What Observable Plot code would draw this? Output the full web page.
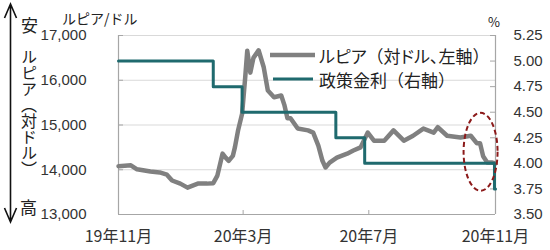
<!DOCTYPE html>
<html><head><meta charset="utf-8">
<script src="https://cdn.jsdelivr.net/npm/d3@7"></script>
<script src="https://cdn.jsdelivr.net/npm/@observablehq/plot@0.6"></script>
<style>body{margin:0;background:#fff}</style>
</head><body><div id="chart"></div>
<script>
// ---- data ----
const rupiahDates = ["2019-11-20","2019-12-02","2019-12-08","2019-12-21","2019-12-30","2020-01-06","2020-01-11","2020-01-19","2020-01-26","2020-02-05","2020-02-14","2020-02-20","2020-02-24","2020-02-29","2020-03-03","2020-03-06","2020-03-10","2020-03-12","2020-03-15","2020-03-19","2020-03-22","2020-03-24","2020-03-27","2020-03-30","2020-04-04","2020-04-09","2020-04-13","2020-04-19","2020-04-26","2020-04-29","2020-05-02","2020-05-05","2020-05-12","2020-05-22","2020-05-27","2020-06-01","2020-06-05","2020-06-08","2020-06-12","2020-06-19","2020-06-29","2020-07-05","2020-07-12","2020-07-19","2020-07-25","2020-08-04","2020-08-13","2020-08-23","2020-09-01","2020-09-11","2020-09-21","2020-09-25","2020-10-04","2020-10-17","2020-10-27","2020-11-02","2020-11-05","2020-11-08","2020-11-12","2020-11-17","2020-11-20"];
const rupiahValues = [14080,14100,14010,13960,13940,13890,13760,13690,13600,13690,13690,13700,13870,14360,14270,14200,14310,14500,14870,15250,16060,16660,16170,16500,16670,16290,15770,15620,15660,15450,15150,15150,14920,14880,14830,14540,14200,14050,14160,14270,14360,14430,14500,14830,14650,14650,14880,14650,14760,14920,14830,14950,14760,14720,14760,14590,14590,14300,14160,14160,14140];
const rateDates = ["2019-11-20","2020-02-20","2020-03-19","2020-06-18","2020-07-16","2020-11-19","2020-11-20"];
const rateValues = [5.00,4.75,4.50,4.25,4.00,3.75,3.75];
const leftTicks = [13000,14000,15000,16000,17000];
const rightTicks = [3.50,3.75,4.00,4.25,4.50,4.75,5.00,5.25];
const xDomain = ["2019-11-20","2020-11-20"];
const xTickDates = ["2019-11-20","2020-03-20","2020-07-20","2020-11-20"];
const xTickLabels = ["19年11月","20年3月","20年7月","20年11月"];
const seriesNames = ["ルピア(対ドル、左軸)","政策金利(右軸)"];
const leftTitle = "ルピア/ドル";
const rightTitle = "%";
const sideWords = ["安","ルピア（対ドル）","高"];
const highlightDate = "2020-11-06", highlightValue = 14390, highlightDays = 16.5, highlightSpan = 870;

// ---- build ----
const parse = d3.utcParse("%Y-%m-%d");
const leftMin = 13000, leftMax = 17000, rMin = 3.5, rMax = 5.25;
const rateToY = r => leftMin + (r - rMin) * (leftMax - leftMin) / (rMax - rMin);
const yToRate = v => rMin + (v - leftMin) * (rMax - rMin) / (leftMax - leftMin);
const rupiah = rupiahDates.map((d, i) => ({date: parse(d), value: rupiahValues[i]}));
const rate = rateDates.map((d, i) => ({date: parse(d), value: rateToY(rateValues[i])}));
const xt = xTickDates.map(parse);
const labelOf = d => xTickLabels[xt.findIndex(t => +t === +d)];
const x0 = parse(xDomain[0]), x1 = parse(xDomain[1]);

const FONT = "'Liberation Sans','Noto Sans CJK JP',sans-serif";
const JP = "'Noto Sans CJK JP','Liberation Sans',sans-serif";
const GRAY = "#808080", TEAL = "#1f6a6e", AX = "#a6a6a6", GRID = "#d9d9d9";

function decor(index, scales, values, dims) {
  const g = d3.create("svg:g").attr("font-family", JP).attr("fill", "#222").attr("text-anchor", "start");
  // double arrow on the left
  const ax = 10.5, top = 4, bot = 222;
  g.append("path").attr("d", `M${ax},${top}V${bot}M${ax-6},${top+14}L${ax},${top}L${ax+6},${top+14}M${ax-6},${bot-14}L${ax},${bot}L${ax+6},${bot-14}`)
    .attr("fill", "none").attr("stroke", "#111").attr("stroke-width", 1.6);
  g.append("text").attr("x", 29.5).attr("y", 24).attr("dominant-baseline", "central").attr("text-anchor", "middle").attr("font-size", 17).text(sideWords[0]);
  g.append("text").attr("x", 29).attr("y", 49).attr("font-size", 16)
    .style("writing-mode", "vertical-rl").style("text-orientation", "mixed")
    .attr("text-anchor", "start").text(sideWords[1]);
  g.append("text").attr("x", 28.5).attr("y", 206).attr("dominant-baseline", "central").attr("text-anchor", "middle").attr("font-size", 17).text(sideWords[2]);
  // unit titles
  g.append("text").attr("x", 62).attr("y", 18).attr("dominant-baseline", "central").attr("font-size", 14).text(leftTitle);
  g.append("text").attr("x", 494).attr("y", 21).attr("dominant-baseline", "central").attr("text-anchor", "middle").attr("font-size", 13).text(rightTitle);
  // legend
  const lg = [{c: GRAY, w: 4.5, y: 55, x1: 270, x2: 315}, {c: TEAL, w: 3, y: 79, x1: 273, x2: 313}];
  lg.forEach(l => {
    g.append("path").attr("d", `M${l.x1},${l.y}H${l.x2}`).attr("fill", "none").attr("stroke", l.c).attr("stroke-width", l.w);
  });
  const t1 = g.append("text").attr("x", 319).attr("y", 55).attr("dominant-baseline", "central").attr("font-size", 17);
  [["ルピア", true], ["（対", false], ["ドル、", true], ["左軸）", false]].forEach(([s, p]) => {
    const ts = t1.append("tspan").text(s);
    if (p) ts.style("font-feature-settings", "'palt'");
  });
  g.append("text").attr("x", 319).attr("y", 79).attr("dominant-baseline", "central").attr("font-size", 17).text(seriesNames[1].replace("(", "（").replace(")", "）"));
  // highlight ellipse (positioned through scales)
  const hd = parse(highlightDate);
  const cx = scales.x(hd), cy = scales.y(highlightValue);
  const rx = scales.x(new Date(+hd + highlightDays * 864e5)) - cx;
  const ry = scales.y(highlightValue - highlightSpan) - cy;
  g.append("ellipse").attr("cx", cx).attr("cy", cy).attr("rx", rx).attr("ry", ry)
    .attr("fill", "none").attr("stroke", "#8c1a1a").attr("stroke-width", 2).attr("stroke-dasharray", "5,3");
  return g.node();
}

const chart = Plot.plot({
  width: 550, height: 250,
  marginLeft: 118, marginRight: 55, marginTop: 35, marginBottom: 36,
  style: {fontFamily: FONT, background: "#fff", overflow: "visible", color: "#333"},
  x: {type: "utc", domain: [x0, x1]},
  y: {domain: [leftMin, leftMax]},
  marks: [
    Plot.ruleY(leftTicks.filter(d => d > leftMin), {stroke: GRID, strokeWidth: 1}),
    Plot.ruleX([x0], {stroke: AX, strokeWidth: 1.2}),
    Plot.ruleX([x1], {stroke: AX, strokeWidth: 1.2}),
    Plot.ruleY([leftMin], {stroke: AX, strokeWidth: 1.2}),
    Plot.tickY(leftTicks, {y: d => d, stroke: AX, insetRight: 377 - 5}),
    Plot.tickY(rightTicks.map(rateToY), {y: d => d, stroke: AX, insetLeft: 377 - 5}),
    Plot.tickX(xt, {x: d => d, stroke: AX, insetTop: 179 - 4}),
    Plot.axisY({anchor: "left", ticks: leftTicks, tickSize: 0, tickPadding: 32, tickFormat: d3.format(","), fontSize: 15, label: null, fill: "#333"}),
    Plot.axisY({anchor: "right", ticks: rightTicks.map(rateToY), tickSize: 0, tickPadding: 18, tickFormat: v => yToRate(v).toFixed(2), fontSize: 15, label: null, fill: "#333"}),
    Plot.axisX({ticks: xt, tickSize: 0, tickPadding: 16, tickFormat: labelOf, fontSize: 16, label: null, fill: "#333", fontFamily: JP}),
    Plot.line(rupiah, {x: "date", y: "value", stroke: GRAY, strokeWidth: 4.5, strokeLinejoin: "round", strokeLinecap: "round"}),
    Plot.line(rate, {x: "date", y: "value", curve: "step-after", stroke: TEAL, strokeWidth: 3}),
    decor
  ]
});
document.getElementById("chart").append(chart);
</script>
</body></html>
